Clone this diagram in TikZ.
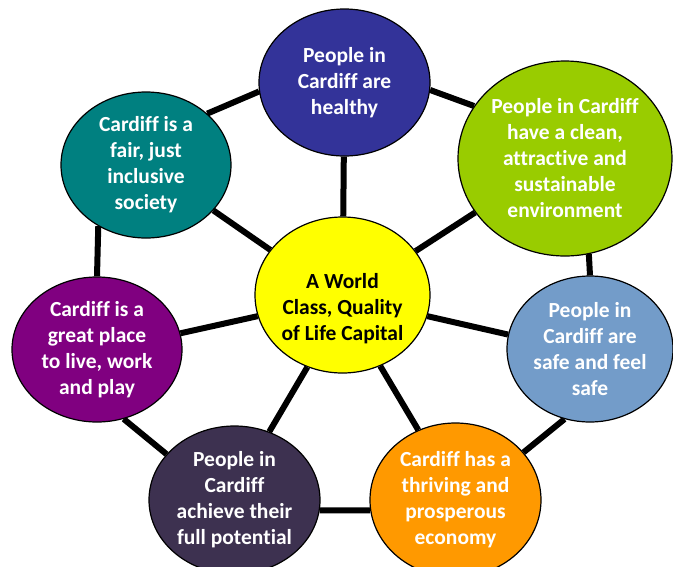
\documentclass[tikz,border=0pt]{standalone}
\usepackage{fontspec}
\setmainfont{Carlito}[Ligatures=NoCommon]
\usetikzlibrary{shapes.geometric}
\usetikzlibrary{backgrounds}
\definecolor{coreyellow}{HTML}{FFFF00}
\definecolor{healthblue}{HTML}{333399}
\definecolor{envgreen}{HTML}{99CC00}
\definecolor{safeblue}{HTML}{739CC9}
\definecolor{econorange}{HTML}{FF9900}
\definecolor{potpurple}{HTML}{3D3150}
\definecolor{placepurple}{HTML}{800080}
\definecolor{fairteal}{HTML}{008080}

\begin{document}
\begin{tikzpicture}[x=1pt, y=-1pt, goal/.style = {draw, ellipse, line width=1.2pt, inner sep=-20pt, text=white, align=center, font=\fontsize{21.5}{26}\selectfont\bfseries}]
					\useasboundingbox (0,0) rectangle (673,566);
					\begin{scope}[every node/.style={goal}]
						\node[fill=coreyellow, text=black, minimum width=175pt, minimum height=156pt] (core) at (342.5,295) {\raisebox{-14pt}[\height][\depth]{\begin{tabular}{@{}c@{}}A World\\ Class, Quality\\ of Life Capital\end{tabular}}};
						\node[fill=healthblue, minimum width=171pt, minimum height=147pt] (health) at (344.5,82.5) {People in\\ Cardiff are\\ healthy};
						\node[fill=envgreen, minimum width=214pt, minimum height=195pt] (env) at (565,158.5) {People in Cardiff\\ have a clean,\\ attractive and\\ sustainable\\ environment};
						\node[fill=safeblue, minimum width=166pt, minimum height=146pt] (safe) at (590,349) {People in\\ Cardiff are\\ safe and feel\\ safe};
						\node[fill=econorange, minimum width=171pt, minimum height=154pt] (economy) at (455.5,500) {Cardiff has a\\ thriving and\\ prosperous\\ economy};
						\node[fill=potpurple, minimum width=171pt, minimum height=148pt] (potential) at (234.5,500) {People in\\ Cardiff\\ achieve their\\ full potential};
						\node[fill=placepurple, minimum width=170pt, minimum height=145pt] (place) at (97,349.5) {Cardiff is a\\ great place\\ to live, work\\ and play};
						\node[fill=fairteal, minimum width=170pt, minimum height=146pt] (fair) at (146,165) {Cardiff is a\\ fair, just\\ inclusive\\ society};
					\end{scope}
					\begin{scope}[on background layer]
						\draw [line width=6pt,black] (fair.40) -- (health.186);
						\draw [line width=6pt,black] (health.355) -- (env.150);
						\draw [line width=6pt,black] (health) -- (core);
						\draw [line width=6pt,black] (env.211) -- (core.31);
						\draw [line width=6pt,black] (env.284) -- (safe.north);
						\draw [line width=6pt,black] (fair.326) -- (core.148);
						\draw [line width=6pt,black] (fair.232) -- (place.north);
						\draw [line width=6pt,black] (place.11) -- (core.194);
						\draw [line width=6pt,black] (place.291) -- (potential.146);
						\draw [line width=6pt,black] (potential.63) -- (core.244);
						\draw [line width=6pt,black] (potential.353) -- (economy.187);
						\draw [line width=6pt,black] (core.346) -- (safe.170);
						\draw [line width=6pt,black] (core.298) -- (economy.118);
						\draw [line width=6pt,black] (economy.35) -- (safe.250);
					\end{scope}
				\end{tikzpicture}
\end{document}
